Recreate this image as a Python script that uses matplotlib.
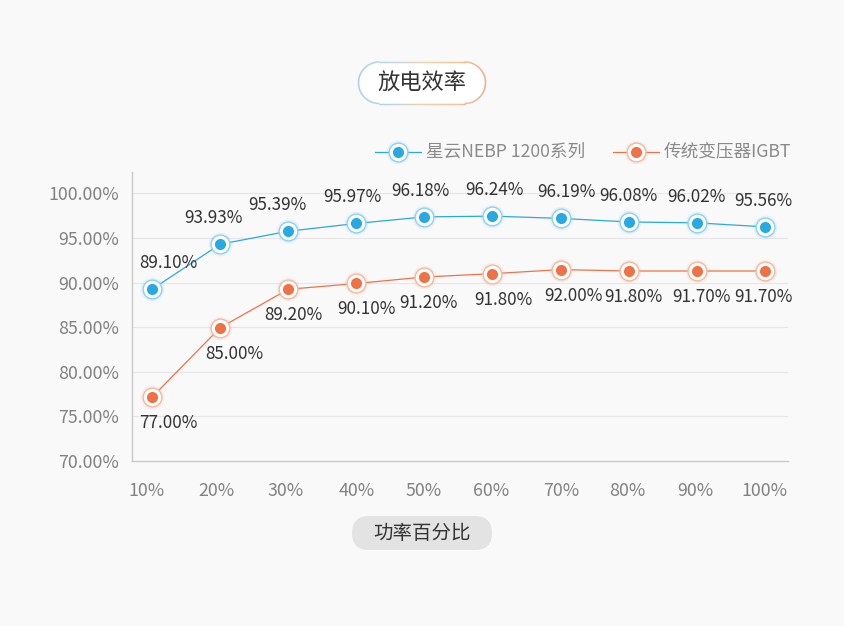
import numpy as np
import matplotlib
matplotlib.use("Agg")
import matplotlib.pyplot as plt
from matplotlib.collections import LineCollection
from matplotlib.patches import FancyBboxPatch
from matplotlib.colors import LinearSegmentedColormap
from matplotlib.transforms import offset_copy

plt.rcParams['font.family'] = ['Noto Sans CJK SC', 'DejaVu Sans']

# ---- data ----
categories = ['10%', '20%', '30%', '40%', '50%', '60%', '70%', '80%', '90%', '100%']
x_pos = [10, 20, 30, 40, 50, 60, 70, 80, 90, 100]
nebp_values = [89.25, 94.3, 95.76, 96.63, 97.37, 97.45, 97.2, 96.8, 96.7, 96.25]
nebp_labels = ['89.10%', '93.93%', '95.39%', '95.97%', '96.18%', '96.24%', '96.19%', '96.08%', '96.02%', '95.56%']
igbt_values = [77.15, 84.94, 89.25, 89.9, 90.63, 91.0, 91.46, 91.3, 91.3, 91.3]
igbt_labels = ['77.00%', '85.00%', '89.20%', '90.10%', '91.20%', '91.80%', '92.00%', '91.80%', '91.70%', '91.70%']
y_ticks = [70, 75, 80, 85, 90, 95, 100]
y_ticklabels = ['70.00%', '75.00%', '80.00%', '85.00%', '90.00%', '95.00%', '100.00%']
series_names = ['星云NEBP 1200系列', '传统变压器IGBT']
title = '放电效率'
xlabel = '功率百分比'

BLUE = '#29a9e1'
BLUE_L = '#8fd0f2'
ORANGE = '#ef7247'
ORANGE_L = '#f7b79f'
BG = '#f9f9f9'

W, H = 845, 626
fig = plt.figure(figsize=(W / 100, H / 100), dpi=100, facecolor=BG)

# overlay axes in pixel coords for decorations (y measured from top via Y())
deco = fig.add_axes([0, 0, 1, 1], zorder=0)
deco.set_xlim(0, W)
deco.set_ylim(0, H)
deco.axis('off')
deco.set_facecolor('none')


def Y(y):
    return H - y


ax = fig.add_axes([132 / W, 1 - 461 / H, (788 - 132) / W, (461 - 172) / H], zorder=1)
ax.set_facecolor('none')
ax.set_xlim(7.06, 103.4)
ax.set_ylim(70, 102.4)

for y in y_ticks[1:]:
    ax.axhline(y, color='#e6e6e6', lw=0.8, zorder=0)

for s in ['top', 'right']:
    ax.spines[s].set_visible(False)
for s in ['left', 'bottom']:
    ax.spines[s].set_color('#c8c8c8')
    ax.spines[s].set_linewidth(1.0)

ax.set_yticks(y_ticks)
ax.set_yticklabels(y_ticklabels)
ax.set_xticks(x_pos)
ax.set_xticklabels(categories)
ax.tick_params(axis='both', length=0, labelsize=12.8, colors='#828282')
ax.tick_params(axis='y', pad=9)
ax.tick_params(axis='x', pad=15)
for lab, d in zip(ax.get_xticklabels(), [-6, -4, -3, 0, -1, -1, 1, -1, -1, 0]):
    lab.set_transform(offset_copy(lab.get_transform(), fig=fig, x=d, y=0, units='dots'))


def draw_series(vals, color, light, labels, offset, dx):
    ax.plot(x_pos, vals, color=color, lw=0.9, zorder=3)
    ax.plot(x_pos, vals, 'o', ms=17, color=light, alpha=0.18, mec='none', zorder=4)
    ax.plot(x_pos, vals, 'o', ms=13.5, mfc='white', mec=light, mew=1.0, zorder=5)
    ax.plot(x_pos, vals, 'o', ms=8, color=color, mec='none', zorder=6)
    for xi, v, lab, d in zip(x_pos, vals, labels, dx):
        ax.annotate(lab, (xi, v), xytext=(d, offset), textcoords='offset pixels',
                    ha='center', va='center', fontsize=12.3, color='#333333', zorder=7)


draw_series(nebp_values, BLUE, BLUE_L, nebp_labels, 26, [16, -7, -11, -4, -4, 2, 6, 0, 0, -2])
draw_series(igbt_values, ORANGE, ORANGE_L, igbt_labels, -26, [16, 14, 5, 10, 4, 11, 13, 5, 5, -1])


# ---- title pill with gradient border ----
def pill_path(x0, x1, y0, y1, n=400):
    r = (y1 - y0) / 2
    cy = (y0 + y1) / 2
    pts = []
    pts += [(x, y1) for x in np.linspace(x0 + r, x1 - r, n)]
    t = np.linspace(np.pi / 2, -np.pi / 2, n)
    pts += [(x1 - r + r * np.cos(a), cy + r * np.sin(a)) for a in t]
    pts += [(x, y0) for x in np.linspace(x1 - r, x0 + r, n)]
    t = np.linspace(3 * np.pi / 2, np.pi / 2, n)
    pts += [(x0 + r + r * np.cos(a), cy + r * np.sin(a)) for a in t]
    return np.array(pts)


tx0, tx1 = 358.5, 485.5
ty0, ty1 = Y(103.5), Y(62)
r = (ty1 - ty0) / 2
deco.add_patch(FancyBboxPatch((tx0, ty0), tx1 - tx0, ty1 - ty0,
                              boxstyle='round,pad=0,rounding_size=%f' % r,
                              fc='white', ec='none', zorder=1))
pts = pill_path(tx0, tx1, ty0, ty1)
segs = np.stack([pts[:-1], pts[1:]], axis=1)
cmap = LinearSegmentedColormap.from_list('g', ['#7fc1ec', '#a9cbe0', '#e8c79a', '#f3b877', '#ee875b'])
mid = (segs[:, 0, 0] + segs[:, 1, 0]) / 2
cols = cmap((mid - tx0) / (tx1 - tx0))
deco.add_collection(LineCollection(segs, colors=cols, linewidths=1.0, zorder=2,
                                   capstyle='butt'))
deco.text((tx0 + tx1) / 2, Y(83), title, ha='center', va='center',
          fontsize=16, color='#333333', zorder=3)


# ---- legend ----
def legend_item(xc, y, color, light, name):
    y = Y(y)
    deco.plot([xc - 23, xc + 23], [y, y], color=color, lw=0.9)
    deco.plot([xc], [y], 'o', ms=17, color=light, alpha=0.18, mec='none')
    deco.plot([xc], [y], 'o', ms=13.5, mfc='white', mec=light, mew=1.0)
    deco.plot([xc], [y], 'o', ms=8, color=color, mec='none')
    deco.text(xc + 28, y, name, ha='left', va='center', fontsize=12.7, color='#8a8a8a')


legend_item(398, 152, BLUE, BLUE_L, series_names[0])
legend_item(636, 152, ORANGE, ORANGE_L, series_names[1])

# ---- x label pill ----
deco.add_patch(FancyBboxPatch((352, Y(550)), 140, 34, boxstyle='round,pad=0,rounding_size=17',
                              fc='#e3e3e3', ec='none'))
deco.text(422, Y(533.5), xlabel, ha='center', va='center', fontsize=14, color='#333333')

fig.savefig('out.png', dpi=100, facecolor=BG)
